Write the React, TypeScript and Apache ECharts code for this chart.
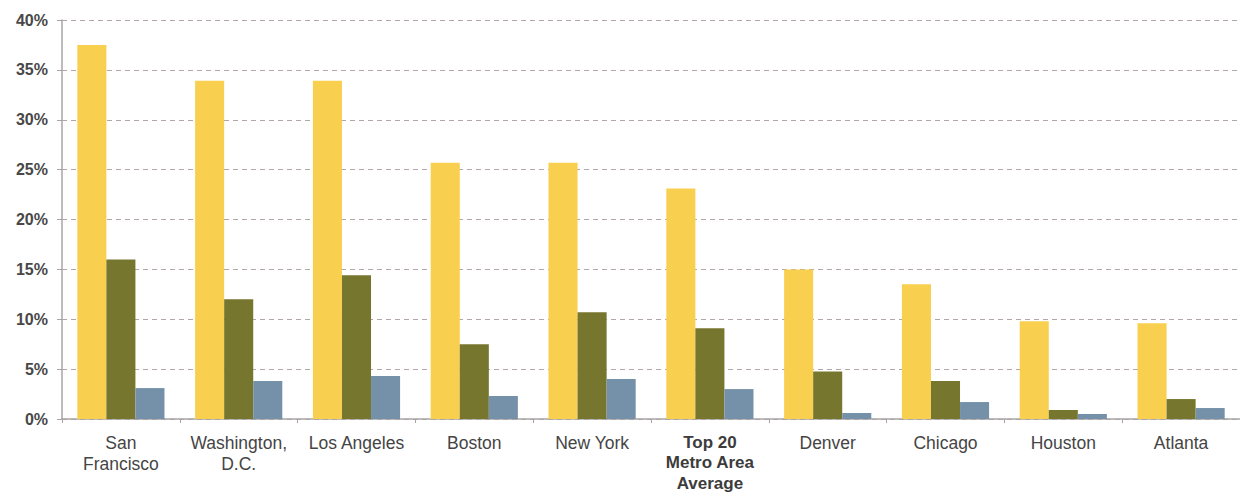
import React, { useEffect, useRef } from "react";
import * as echarts from "echarts";

const categories = [
  "San\nFrancisco",
  "Washington,\nD.C.",
  "Los Angeles",
  "Boston",
  "New York",
  "Top 20\nMetro Area\nAverage",
  "Denver",
  "Chicago",
  "Houston",
  "Atlanta",
];
const boldCategory = "Top 20\nMetro Area\nAverage";
const seriesA = [37.5, 33.9, 33.9, 25.7, 25.7, 23.1, 15.0, 13.5, 9.8, 9.6];
const seriesB = [16.0, 12.0, 14.4, 7.5, 10.7, 9.1, 4.75, 3.8, 0.9, 2.0];
const seriesC = [3.1, 3.8, 4.3, 2.3, 4.0, 3.0, 0.6, 1.7, 0.5, 1.1];
const yTicks = { min: 0, max: 40, interval: 5 };
const colors = ["#F9CF4F", "#77762E", "#7591A9"];

const font = "'Liberation Sans', Arial, sans-serif";

export default function App() {
  const ref = useRef<HTMLDivElement>(null);
  useEffect(() => {
    if (!ref.current) return;
    const chart = echarts.init(ref.current, null, { renderer: "svg" });
    const mk = (name: string, data: number[], color: string) => ({
      name,
      type: "bar",
      data,
      barGap: "0%",
      barCategoryGap: "26%",
      itemStyle: { color },
    });
    chart.setOption({
      animation: false,
      backgroundColor: "#ffffff",
      grid: { left: 62, right: 0, top: 20, bottom: 78, containLabel: false },
      xAxis: {
        type: "category",
        data: categories,
        axisLine: { lineStyle: { color: "#a9a4a4", width: 1.5 } },
        axisTick: { show: true, length: 4, lineStyle: { color: "#a9a4a4" } },
        axisLabel: {
          interval: 0,
          margin: 13,
          fontFamily: font,
          fontSize: 17.5,
          lineHeight: 21.5,
          color: "#454545",
          formatter: (v: string) => (v === boldCategory ? `{b|${v}}` : v),
          rich: {
            b: {
              fontWeight: "bold",
              fontFamily: font,
              fontSize: 17,
              lineHeight: 20.5,
              color: "#3c3c3c",
            },
          },
        },
      },
      yAxis: {
        type: "value",
        min: yTicks.min,
        max: yTicks.max,
        interval: yTicks.interval,
        axisLine: { show: true, lineStyle: { color: "#a9a4a4", width: 1.5 } },
        axisTick: { show: true, length: 5, lineStyle: { color: "#a9a4a4" } },
        axisLabel: {
          formatter: "{value}%",
          fontFamily: font,
          fontWeight: "bold",
          fontSize: 16,
          color: "#484848",
          margin: 14,
        },
        splitLine: {
          show: true,
          lineStyle: { color: "#b3a6a6", type: [5, 4], width: 1.2 },
        },
      },
      series: [
        mk("A", seriesA, colors[0]),
        mk("B", seriesB, colors[1]),
        mk("C", seriesC, colors[2]),
      ],
    });
    return () => chart.dispose();
  }, []);
  return (
    <div
      ref={ref}
      style={{ position: "absolute", left: 0, top: 0, width: 1240, height: 497 }}
    />
  );
}
